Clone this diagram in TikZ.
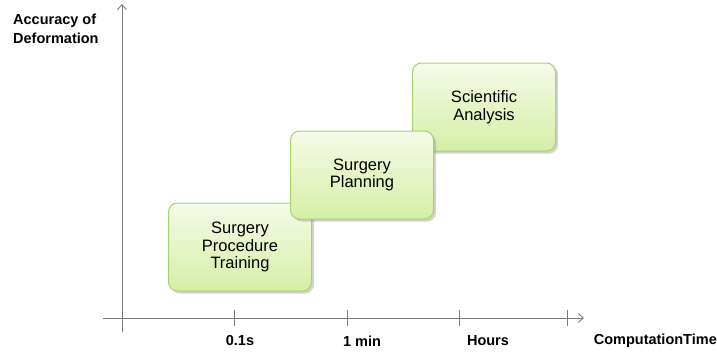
\documentclass[tikz,border=0pt]{standalone}
\usepackage{fontspec}
\setmainfont{Liberation Sans}
\usepackage{tikz}
\usetikzlibrary{arrows.meta, shadings, shadows, positioning}

\definecolor{boxline}{HTML}{A6D26E}
\definecolor{boxtop}{HTML}{F5FBE8}
\definecolor{boxbottom}{HTML}{D6EEA6}
\definecolor{axisgray}{HTML}{7A7A7A}

\tikzset{
  axis/.style={axisgray, line width=0.9pt},
  tick/.style={axisgray, line width=0.9pt},
  axislabel/.style={font=\fontsize{14.5}{19}\selectfont\bfseries, inner sep=0pt, align=left},
  appbox/.style={draw=boxline, line width=1pt, rounded corners=9pt,
    top color=boxtop, bottom color=boxbottom,
    drop shadow={shadow xshift=2.5pt, shadow yshift=-2.5pt, opacity=0.35},
    minimum width=143pt, minimum height=88pt, inner sep=0pt, align=center,
    font=\fontsize{16.5}{17.5}\selectfont}
}

\begin{document}
\begin{tikzpicture}[x=1pt, y=-1pt, >={Straight Barb[length=5pt, width=9pt]}] % 1 unit = 1 pixel

            \useasboundingbox (0,0) rectangle (717,354);

            % Trục tọa độ
            \coordinate (yfoot) at (122,332);
            \coordinate (ytop) at (122,4);
            \coordinate (xfoot) at (103,318);
            \coordinate (xtip) at (584,318);
            \draw[axis, ->] (yfoot) -- (ytop); % Trục y
            \draw[axis, ->] (xfoot) -- (xtip); % Trục x

            % Vạch chia và nhãn
            \foreach \tx/\lx/\name/\txt in {234/240/tick1/0.1s, 347/362/tick2/1 min, 459/488/tick3/Hours}
              {
              \draw[tick] (\tx,310) -- (\tx,326);
              \node[axislabel, anchor=center] (\name) at (\lx,341) {\txt};
              }
            \draw[tick] (567,310) -- (567,326);
            \node[axislabel, anchor=east] (xlabel) at (717,341) {ComputationTime};
            \node[axislabel, anchor=north west] (ylabel) at (13,14) {Accuracy of\\Deformation};

            % Các hộp ứng dụng
            \node[appbox] (training) at (240,247) {Surgery\\Procedure\\Training};
            \node[appbox] (analysis) at (484,107) {Scientific\\Analysis};
            \node[appbox] (planning) at (362,175) {Surgery\\Planning};

\end{tikzpicture}
\end{document}
